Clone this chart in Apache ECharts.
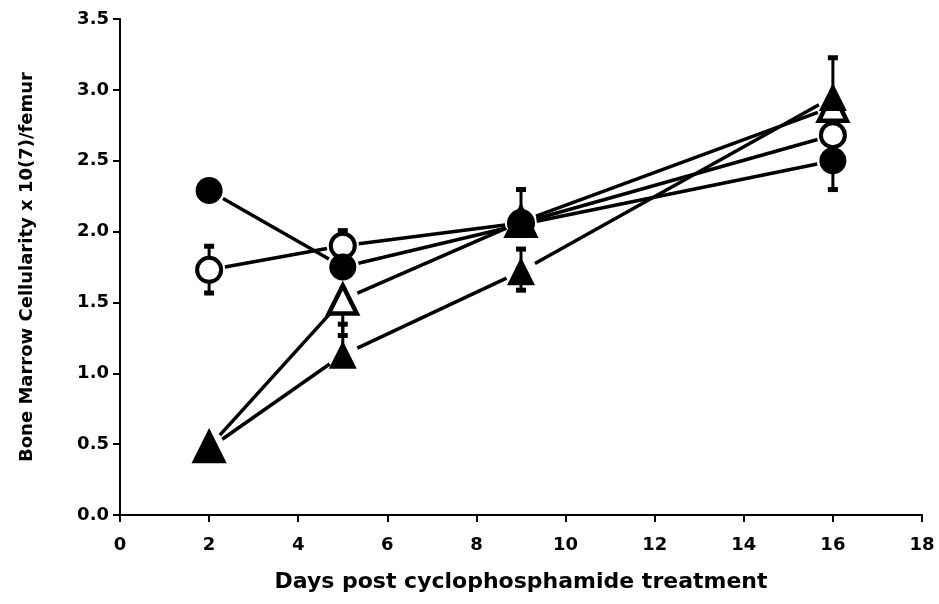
<!DOCTYPE html>
<html><head><meta charset="utf-8">
<script src="https://cdn.jsdelivr.net/npm/echarts@6/dist/echarts.min.js"></script>
<style>html,body{margin:0;padding:0;background:#fff}#c{width:939px;height:604px}</style>
</head><body><div id="c"></div>
<script>
const days = [2, 5, 9, 16];
const xTicks = [0, 2, 4, 6, 8, 10, 12, 14, 16, 18];
const yTicks = ['0.0', '0.5', '1.0', '1.5', '2.0', '2.5', '3.0', '3.5'];
const filledCircle = [2.29, 1.75, 2.05, 2.50];
const openCircle = [1.73, 1.90, 2.06, 2.68];
const openTriangle = [0.48, 1.52, 2.07, 2.88];
const filledTriangle = [0.47, 1.13, 1.72, 2.95];
// [day, low, high]
const errFilledCircle = [[9, 2.05, 2.30], [16, 2.30, 2.50]];
const errOpenCircle = [[2, 1.57, 1.90], [5, 1.90, 2.01], [16, 2.68, 2.75]];
const errOpenTriangle = [[5, 1.27, 1.52], [16, 2.88, 3.23]];
const errFilledTriangle = [[5, 1.13, 1.35], [9, 1.59, 1.88]];

const allSeries = [filledCircle, openCircle, openTriangle, filledTriangle];
const segData = [];
allSeries.forEach(s => { for (let i = 0; i < days.length - 1; i++) segData.push([days[i], s[i], days[i+1], s[i+1]]); });
const errData = [].concat(errFilledCircle, errOpenCircle, errOpenTriangle, errFilledTriangle);

const chart = echarts.init(document.getElementById('c'));
const font = 'DejaVu Sans';
const GAP = 16;
chart.setOption({
  animation: false,
  backgroundColor: '#fff',
  grid: {left: 120, right: 17, top: 19, bottom: 89},
  xAxis: {
    type: 'value', min: 0, max: 18, interval: 2,
    name: 'Days post cyclophosphamide treatment', nameLocation: 'middle', nameGap: 56,
    nameTextStyle: {fontFamily: font, fontWeight: 'bold', fontSize: 22, color: '#000'},
    axisLine: {show: true, lineStyle: {color: '#000', width: 2}},
    axisTick: {show: true, length: 7, lineStyle: {color: '#000', width: 2}},
    axisLabel: {fontFamily: font, fontWeight: 'bold', fontSize: 18, color: '#000', margin: 21,
      formatter: v => String(xTicks[Math.round(v / 2)])},
    splitLine: {show: false}
  },
  yAxis: {
    type: 'value', min: 0, max: 3.5, interval: 0.5,
    name: 'Bone Marrow Cellularity x 10(7)/femur', nameLocation: 'middle', nameGap: 84,
    nameTextStyle: {fontFamily: font, fontWeight: 'bold', fontSize: 18, color: '#000'},
    axisLine: {show: true, lineStyle: {color: '#000', width: 2}},
    axisTick: {show: true, length: 7, lineStyle: {color: '#000', width: 2}},
    axisLabel: {fontFamily: font, fontWeight: 'bold', fontSize: 18, color: '#000', margin: 11,
      formatter: v => yTicks[Math.round(v / 0.5)]},
    splitLine: {show: false}
  },
  series: [
    {
      type: 'custom', z: 1, data: segData,
      renderItem: (params, api) => {
        const a = api.coord([api.value(0), api.value(1)]);
        const b = api.coord([api.value(2), api.value(3)]);
        const dx = b[0] - a[0], dy = b[1] - a[1];
        const L = Math.sqrt(dx*dx + dy*dy);
        const ux = dx / L, uy = dy / L;
        return {type: 'line', shape: {x1: a[0] + ux*GAP, y1: a[1] + uy*GAP, x2: b[0] - ux*GAP, y2: b[1] - uy*GAP},
          style: {stroke: '#000', lineWidth: 3.5}};
      }
    },
    {
      type: 'custom', z: 2, data: errData,
      renderItem: (params, api) => {
        const lo = api.coord([api.value(0), api.value(1)]);
        const hi = api.coord([api.value(0), api.value(2)]);
        return {type: 'group', children: [
          {type: 'line', shape: {x1: lo[0], y1: lo[1], x2: hi[0], y2: hi[1]}, style: {stroke: '#000', lineWidth: 3}},
          {type: 'rect', shape: {x: lo[0] - 5, y: lo[1] - 2, width: 10, height: 5}, style: {fill: '#000'}},
          {type: 'rect', shape: {x: hi[0] - 5, y: hi[1] - 2, width: 10, height: 5}, style: {fill: '#000'}}
        ]};
      }
    },
    {type: 'scatter', z: 3, symbol: 'triangle', symbolSize: [28, 28],
      itemStyle: {color: '#fff', borderColor: '#000', borderWidth: 4.5, opacity: 1},
      data: days.map((d, i) => [d, openTriangle[i]])},
    {type: 'scatter', z: 4, symbol: 'triangle', symbolSize: [28, 28],
      itemStyle: {color: '#000', opacity: 1},
      data: days.map((d, i) => [d, filledTriangle[i]])},
    {type: 'scatter', z: 5, symbol: 'circle', symbolSize: 24,
      itemStyle: {color: '#fff', borderColor: '#000', borderWidth: 4, opacity: 1},
      data: days.map((d, i) => [d, openCircle[i]])},
    {type: 'scatter', z: 6, symbol: 'circle', symbolSize: 27,
      itemStyle: {color: '#000', opacity: 1},
      data: days.map((d, i) => [d, filledCircle[i]])}
  ]
});
</script></body></html>
